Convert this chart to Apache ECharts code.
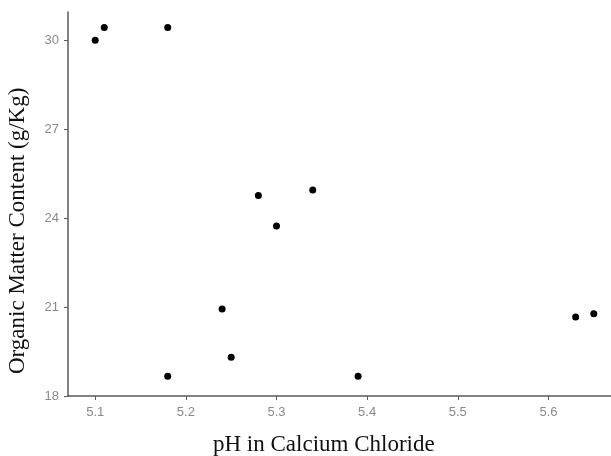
<!DOCTYPE html>
<html><head><meta charset="utf-8">
<script src="https://cdn.jsdelivr.net/npm/echarts@6/dist/echarts.min.js"></script>
<style>html,body{margin:0;padding:0;background:#fff}#c{width:611px;height:456px}</style>
</head><body><div id="c"></div>
<script>
const phValues = [5.10, 5.11, 5.18, 5.28, 5.34, 5.30, 5.24, 5.25, 5.18, 5.39, 5.63, 5.65];
const omValues = [30.0, 30.43, 30.43, 24.76, 24.95, 23.73, 20.93, 19.31, 18.67, 18.67, 20.66, 20.77];
const xTicks = [5.1, 5.2, 5.3, 5.4, 5.5, 5.6];
const yTicks = [18, 21, 24, 27, 30];
const xTitle = 'pH in Calcium Chloride';
const yTitle = 'Organic Matter Content (g/Kg)';

const chart = echarts.init(document.getElementById('c'), null, {renderer: 'canvas'});
const labelStyle = {color: '#8a8a8a', fontFamily: 'Liberation Sans', fontSize: 13};
chart.setOption({
  animation: false,
  grid: {left: 68, right: 0, top: 12, bottom: 60, containLabel: false},
  xAxis: {
    type: 'value', min: 5.07, max: 5.669,
    splitLine: {show: false},
    axisLine: {onZero: false, lineStyle: {color: '#5a5a5a', width: 1.5}},
    axisTick: {customValues: xTicks, length: 4, lineStyle: {color: '#5a5a5a'}},
    axisLabel: Object.assign({customValues: xTicks, margin: 10, formatter: v => v.toFixed(1)}, labelStyle)
  },
  yAxis: {
    type: 'value', min: 18, max: 30.95,
    splitLine: {show: false},
    axisLine: {show: true, onZero: false, lineStyle: {color: '#5a5a5a', width: 1.5}},
    axisTick: {show: true, customValues: yTicks, length: 4, lineStyle: {color: '#5a5a5a'}},
    axisLabel: Object.assign({customValues: yTicks, margin: 9}, labelStyle)
  },
  series: [{
    type: 'scatter',
    data: phValues.map((x, i) => [x, omValues[i]]),
    symbol: 'circle', symbolSize: 7,
    itemStyle: {color: '#000', opacity: 1}
  }],
  graphic: [
    {type: 'text', left: 213, top: 433,
     style: {text: xTitle, fill: '#111', font: '23px "Liberation Serif"'}},
    {type: 'text', rotation: Math.PI / 2, x: 6, y: 374,
     style: {text: yTitle, fill: '#111', font: '23px "Liberation Serif"', textAlign: 'left', textVerticalAlign: 'top'}}
  ]
});
</script></body></html>
